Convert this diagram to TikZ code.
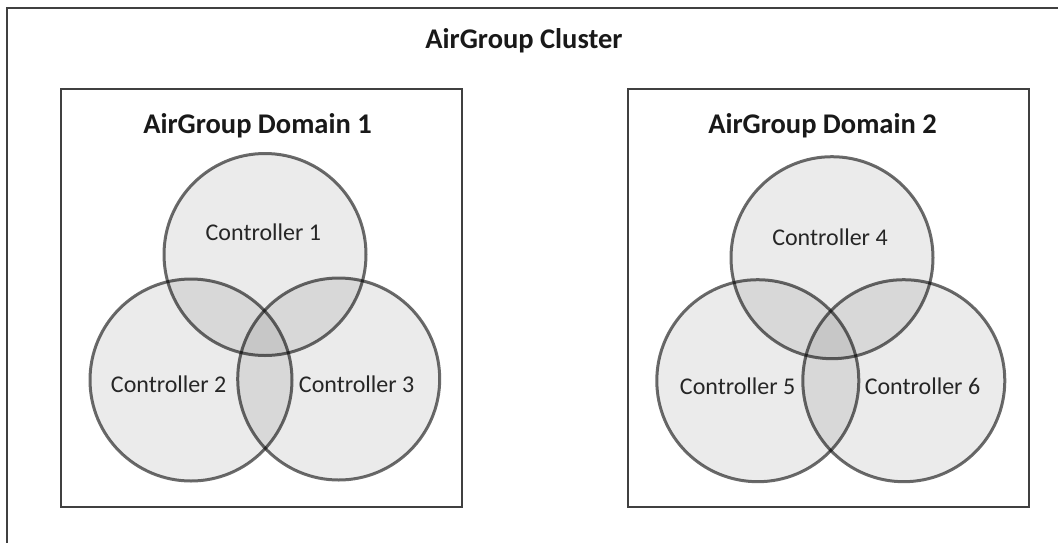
\documentclass[tikz,border=0pt]{standalone}
\usepackage{fontspec}
\setmainfont{Carlito}
\begin{document}
\begin{tikzpicture}[x=1pt,y=-1pt,
  frame/.style={draw=black!75,line width=1.6pt},
  venn/.style={circle,inner sep=0pt,minimum size=202pt,fill=black,fill opacity=0.08,draw=black,draw opacity=0.58,line width=3pt},
  title/.style={font=\fontsize{28.5}{31}\selectfont\bfseries,text=black!90,inner sep=0pt},
  lbl/.style={font=\fontsize{24}{26}\selectfont,text=black!85,inner sep=0pt}]
\useasboundingbox (0,0) rectangle (1058,542);
\clip (0,0) rectangle (1058,542);
\fill[white] (0,0) rectangle (1058,542);
\draw[frame] (7,8) rectangle (1070,560);
\node[title,anchor=base] (tc) at (524,48) {AirGroup Cluster};
% Domain 1
\draw[frame] (61,89) rectangle (462,507);
\node[title,anchor=base] (t1) at (257.5,133) {AirGroup Domain 1};
\node[venn] (c1) at (265,254.5) {};
\node[venn] (c2) at (191,380) {};
\node[venn] (c3) at (338.7,379) {};
\node[lbl] (l1) at (263.4,232) {Controller 1};
\node[lbl] (l2) at (168.7,384) {Controller 2};
\node[lbl] (l3) at (356.7,384) {Controller 3};
% Domain 2
\draw[frame] (628,89) rectangle (1029,507);
\node[title,anchor=base] (t2) at (822.5,133) {AirGroup Domain 2};
\node[venn] (c4) at (832,257.7) {};
\node[venn] (c5) at (757.8,380.7) {};
\node[venn] (c6) at (903.8,380.7) {};
\node[lbl] (l4) at (830,237) {Controller 4};
\node[lbl] (l5) at (737.7,386) {Controller 5};
\node[lbl] (l6) at (922.5,386) {Controller 6};
\end{tikzpicture}
\end{document}
